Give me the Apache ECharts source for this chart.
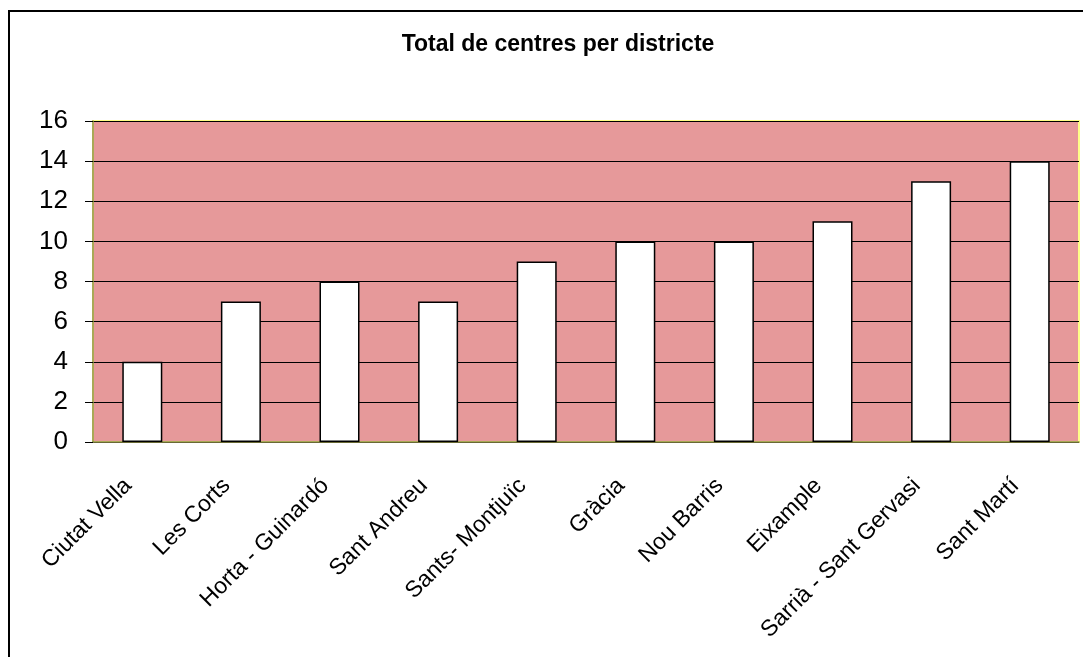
<!DOCTYPE html>
<html>
<head>
<meta charset="utf-8">
<script src="https://cdn.jsdelivr.net/npm/echarts@6/dist/echarts.min.js"></script>
<style>
  html, body { margin: 0; padding: 0; background: #fff; }
  #chart { width: 1083px; height: 657px; }
</style>
</head>
<body>
<div id="chart"></div>
<script>
  // districtes i nombre de centres
  var districts = ["Ciutat Vella", "Les Corts", "Horta - Guinardó", "Sant Andreu", "Sants- Montjuïc",
                   "Gràcia", "Nou Barris", "Eixample", "Sarrià - Sant Gervasi", "Sant Martí"];
  var centres = [4, 7, 8, 7, 9, 10, 10, 11, 13, 14];
  var yTicks = [0, 2, 4, 6, 8, 10, 12, 14, 16];

  var myChart = echarts.init(document.getElementById("chart"));
  var option = {
    animation: false,
    title: {
      text: "Total de centres per districte",
      left: 553,
      top: 28,
      textAlign: "center",
      textStyle: {
        fontFamily: "Liberation Sans, Arial",
        fontSize: 23,
        fontWeight: "bold",
        color: "#000"
      }
    },
    graphic: [{
      type: "rect",
      shape: { x: 9, y: 11, width: 1200, height: 800 },
      style: { fill: "none", stroke: "#000", lineWidth: 2 },
      silent: true
    }],
    grid: {
      left: 93,
      right: 4,
      top: 121,
      bottom: 215,
      show: true,
      backgroundColor: "#E6999A",
      borderColor: "#FFFF88",
      borderWidth: 2
    },
    xAxis: {
      type: "category",
      data: districts,
      axisLine: { lineStyle: { color: "#8C8C46", width: 1.5 } },
      axisTick: { length: 5, lineStyle: { color: "#555" } },
      axisLabel: {
        rotate: 45,
        interval: 0,
        margin: 26,
        padding: [0, 20, 0, 0],
        fontFamily: "Liberation Sans, Arial",
        fontSize: 23,
        color: "#000"
      }
    },
    yAxis: {
      type: "value",
      min: yTicks[0],
      max: yTicks[yTicks.length - 1],
      interval: 2,
      axisLine: { show: true, lineStyle: { color: "#8C8C46", width: 1.5 } },
      axisTick: { show: true, length: 8, lineStyle: { color: "#000" } },
      splitLine: { lineStyle: { color: "#000", width: 1 } },
      axisLabel: {
        margin: 25,
        fontFamily: "Liberation Sans, Arial",
        fontSize: 26,
        color: "#000"
      }
    },
    series: [{
      type: "bar",
      data: centres,
      barWidth: 40,
      itemStyle: {
        color: "#fff",
        borderColor: "#000",
        borderWidth: 1.5
      }
    }]
  };
  myChart.setOption(option);
</script>
</body>
</html>
